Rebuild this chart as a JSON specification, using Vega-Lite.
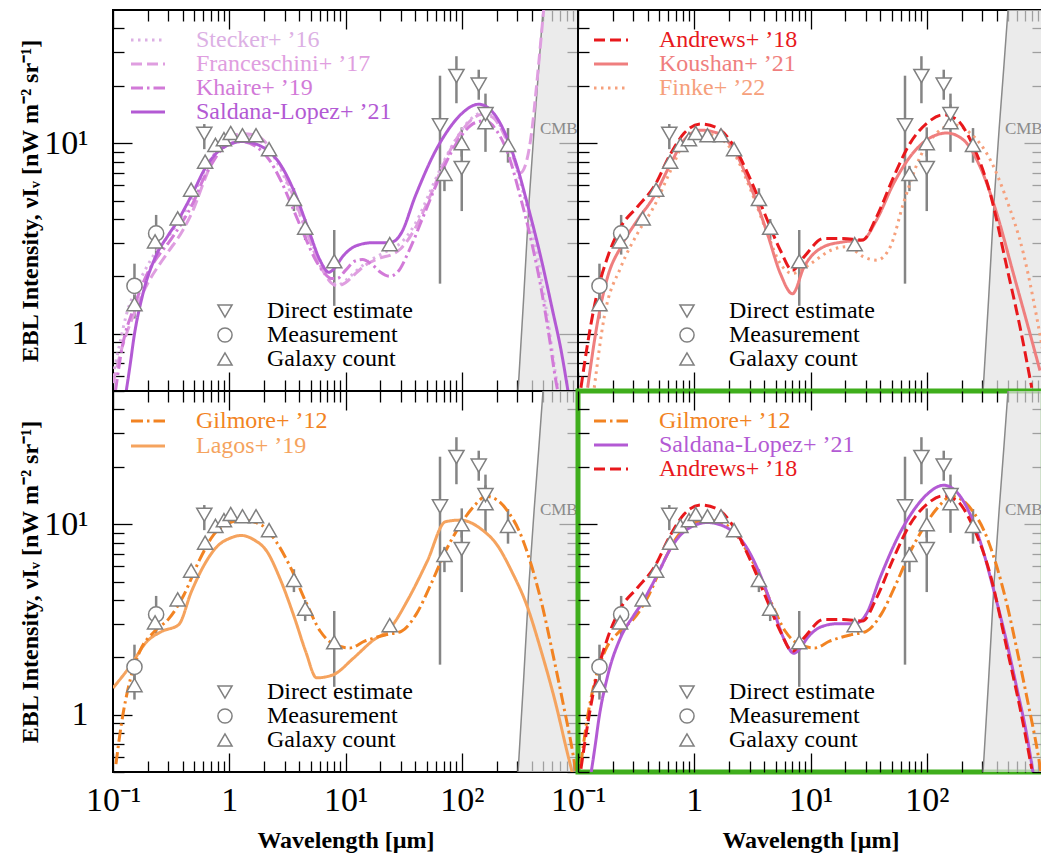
{
"$schema": "https://vega.github.io/schema/vega-lite/v6.json",
"background": "white",
"padding": {"left": 16, "top": 8, "right": 0, "bottom": 0},
"datasets": {
"cmb": [
{"lam":300,"val":0.42},{"lam":340,"val":1.5},{"lam":380,"val":5.0},{"lam":420,"val":12},{"lam":460,"val":25},{"lam":500,"val":50},{"lam":560,"val":110},{"lam":1000,"val":3000}
],
"points": [
{"type":"Measurement","lam":0.153,"val":1.78,"lo":1.5,"hi":2.33},
{"type":"Galaxy count","lam":0.153,"val":1.43,"lo":1.2,"hi":1.65},
{"type":"Measurement","lam":0.235,"val":3.36,"lo":2.6,"hi":4.2},
{"type":"Galaxy count","lam":0.23,"val":3.05,"lo":null,"hi":null},
{"type":"Galaxy count","lam":0.36,"val":4.03,"lo":null,"hi":null},
{"type":"Galaxy count","lam":0.47,"val":5.7,"lo":null,"hi":null},
{"type":"Galaxy count","lam":0.62,"val":8.0,"lo":null,"hi":null},
{"type":"Galaxy count","lam":0.76,"val":9.8,"lo":null,"hi":null},
{"type":"Galaxy count","lam":0.9,"val":10.5,"lo":null,"hi":null},
{"type":"Galaxy count","lam":1.03,"val":11.3,"lo":null,"hi":null},
{"type":"Galaxy count","lam":1.3,"val":11.0,"lo":null,"hi":null},
{"type":"Galaxy count","lam":1.7,"val":11.0,"lo":null,"hi":null},
{"type":"Galaxy count","lam":2.2,"val":9.3,"lo":null,"hi":null},
{"type":"Galaxy count","lam":3.6,"val":5.1,"lo":4.4,"hi":5.8},
{"type":"Galaxy count","lam":4.5,"val":3.6,"lo":3.1,"hi":4.0},
{"type":"Galaxy count","lam":8.0,"val":2.4,"lo":1.4,"hi":3.5},
{"type":"Galaxy count","lam":24,"val":2.95,"lo":null,"hi":null},
{"type":"Galaxy count","lam":71,"val":6.9,"lo":5.6,"hi":7.6},
{"type":"Galaxy count","lam":100,"val":10.0,"lo":8.5,"hi":12.1},
{"type":"Galaxy count","lam":160,"val":12.9,"lo":9.0,"hi":18.2},
{"type":"Galaxy count","lam":250,"val":9.8,"lo":7.9,"hi":12.0},
{"type":"Direct estimate","lam":0.61,"val":11.2,"lo":9.3,"hi":12.6},
{"type":"Direct estimate","lam":65,"val":12.4,"lo":1.83,"hi":22.6},
{"type":"Direct estimate","lam":90,"val":22.5,"lo":16.2,"hi":28.6},
{"type":"Direct estimate","lam":100,"val":7.4,"lo":4.4,"hi":10.0},
{"type":"Direct estimate","lam":140,"val":20.3,"lo":16.9,"hi":24.3},
{"type":"Direct estimate","lam":160,"val":14.2,"lo":12.0,"hi":16.0}
],
"models": [
{"model":"Lagos+ ’19","lam":0.1,"val":1.38},{"model":"Lagos+ ’19","lam":0.137,"val":1.76},{"model":"Lagos+ ’19","lam":0.197,"val":2.43},{"model":"Lagos+ ’19","lam":0.264,"val":2.74},{"model":"Lagos+ ’19","lam":0.366,"val":2.96},{"model":"Lagos+ ’19","lam":0.473,"val":4.43},{"model":"Lagos+ ’19","lam":0.61,"val":6.12},{"model":"Lagos+ ’19","lam":0.787,"val":7.64},{"model":"Lagos+ ’19","lam":1.02,"val":8.45},{"model":"Lagos+ ’19","lam":1.27,"val":8.72},{"model":"Lagos+ ’19","lam":1.63,"val":8.28},{"model":"Lagos+ ’19","lam":2.11,"val":7.19},{"model":"Lagos+ ’19","lam":2.72,"val":5.21},{"model":"Lagos+ ’19","lam":3.65,"val":3.21},{"model":"Lagos+ ’19","lam":4.54,"val":2.15},{"model":"Lagos+ ’19","lam":5.65,"val":1.56},{"model":"Lagos+ ’19","lam":7.84,"val":1.62},{"model":"Lagos+ ’19","lam":11.7,"val":1.98},{"model":"Lagos+ ’19","lam":16.9,"val":2.43},{"model":"Lagos+ ’19","lam":24.3,"val":2.85},{"model":"Lagos+ ’19","lam":35,"val":4.09},{"model":"Lagos+ ’19","lam":50.4,"val":6.37},{"model":"Lagos+ ’19","lam":72.4,"val":10.3},{"model":"Lagos+ ’19","lam":97,"val":10.5},{"model":"Lagos+ ’19","lam":150,"val":9.33},{"model":"Lagos+ ’19","lam":201,"val":7.79},{"model":"Lagos+ ’19","lam":269,"val":5.65},{"model":"Lagos+ ’19","lam":361,"val":3.78},{"model":"Lagos+ ’19","lam":483,"val":2.15},{"model":"Lagos+ ’19","lam":646,"val":1.13},{"model":"Lagos+ ’19","lam":805,"val":0.64},{"model":"Lagos+ ’19","lam":898,"val":0.49},
{"model":"Gilmore+ ’12","lam":0.106,"val":0.55},{"model":"Gilmore+ ’12","lam":0.118,"val":0.89},{"model":"Gilmore+ ’12","lam":0.142,"val":1.56},{"model":"Gilmore+ ’12","lam":0.17,"val":2.15},{"model":"Gilmore+ ’12","lam":0.228,"val":2.74},{"model":"Gilmore+ ’12","lam":0.305,"val":3.21},{"model":"Gilmore+ ’12","lam":0.408,"val":4.26},{"model":"Gilmore+ ’12","lam":0.547,"val":6.37},{"model":"Gilmore+ ’12","lam":0.733,"val":8.79},{"model":"Gilmore+ ’12","lam":0.98,"val":10.1},{"model":"Gilmore+ ’12","lam":1.31,"val":10.5},{"model":"Gilmore+ ’12","lam":1.89,"val":9.9},{"model":"Gilmore+ ’12","lam":2.53,"val":8.1},{"model":"Gilmore+ ’12","lam":3.39,"val":5.88},{"model":"Gilmore+ ’12","lam":4.54,"val":3.93},{"model":"Gilmore+ ’12","lam":6.07,"val":2.74},{"model":"Gilmore+ ’12","lam":8.1,"val":2.33},{"model":"Gilmore+ ’12","lam":10.9,"val":2.24},{"model":"Gilmore+ ’12","lam":14.6,"val":2.43},{"model":"Gilmore+ ’12","lam":22.5,"val":2.63},{"model":"Gilmore+ ’12","lam":30.2,"val":2.74},{"model":"Gilmore+ ’12","lam":40.4,"val":3.35},{"model":"Gilmore+ ’12","lam":54,"val":4.8},{"model":"Gilmore+ ’12","lam":72.4,"val":7.19},{"model":"Gilmore+ ’12","lam":97,"val":9.9},{"model":"Gilmore+ ’12","lam":130,"val":12.6},{"model":"Gilmore+ ’12","lam":162,"val":14.0},{"model":"Gilmore+ ’12","lam":201,"val":13.4},{"model":"Gilmore+ ’12","lam":251,"val":11.6},{"model":"Gilmore+ ’12","lam":312,"val":9.2},{"model":"Gilmore+ ’12","lam":388,"val":6.37},{"model":"Gilmore+ ’12","lam":483,"val":3.93},{"model":"Gilmore+ ’12","lam":601,"val":2.15},{"model":"Gilmore+ ’12","lam":748,"val":1.13},{"model":"Gilmore+ ’12","lam":898,"val":0.64},{"model":"Gilmore+ ’12","lam":960,"val":0.5},
{"model":"Finke+ ’22","lam":0.138,"val":0.52},{"model":"Finke+ ’22","lam":0.168,"val":1.22},{"model":"Finke+ ’22","lam":0.234,"val":2.24},{"model":"Finke+ ’22","lam":0.325,"val":3.36},{"model":"Finke+ ’22","lam":0.45,"val":4.64},{"model":"Finke+ ’22","lam":0.63,"val":7.24},{"model":"Finke+ ’22","lam":0.82,"val":10},{"model":"Finke+ ’22","lam":1.14,"val":11.3},{"model":"Finke+ ’22","lam":1.58,"val":10.8},{"model":"Finke+ ’22","lam":2.2,"val":8.85},{"model":"Finke+ ’22","lam":3.06,"val":5.68},{"model":"Finke+ ’22","lam":4.25,"val":3.36},{"model":"Finke+ ’22","lam":5.5,"val":2.33},{"model":"Finke+ ’22","lam":7.0,"val":2.07},{"model":"Finke+ ’22","lam":10,"val":2.33},{"model":"Finke+ ’22","lam":15,"val":2.74},{"model":"Finke+ ’22","lam":20.6,"val":2.86},{"model":"Finke+ ’22","lam":28.7,"val":2.53},{"model":"Finke+ ’22","lam":37,"val":2.43},{"model":"Finke+ ’22","lam":48.6,"val":2.86},{"model":"Finke+ ’22","lam":63,"val":4.83},{"model":"Finke+ ’22","lam":88,"val":8.5},{"model":"Finke+ ’22","lam":122,"val":11.3},{"model":"Finke+ ’22","lam":170,"val":12.5},{"model":"Finke+ ’22","lam":236,"val":11.3},{"model":"Finke+ ’22","lam":351,"val":8.2},{"model":"Finke+ ’22","lam":488,"val":5.03},{"model":"Finke+ ’22","lam":678,"val":2.64},{"model":"Finke+ ’22","lam":883,"val":1.22},{"model":"Finke+ ’22","lam":1000,"val":0.8},
{"model":"Koushan+ ’21","lam":0.121,"val":0.52},{"model":"Koushan+ ’21","lam":0.148,"val":1.17},{"model":"Koushan+ ’21","lam":0.18,"val":1.99},{"model":"Koushan+ ’21","lam":0.234,"val":2.86},{"model":"Koushan+ ’21","lam":0.325,"val":3.95},{"model":"Koushan+ ’21","lam":0.45,"val":5.24},{"model":"Koushan+ ’21","lam":0.63,"val":7.85},{"model":"Koushan+ ’21","lam":0.82,"val":10.4},{"model":"Koushan+ ’21","lam":1.14,"val":11.7},{"model":"Koushan+ ’21","lam":1.58,"val":11.3},{"model":"Koushan+ ’21","lam":2.2,"val":9.2},{"model":"Koushan+ ’21","lam":3.06,"val":5.9},{"model":"Koushan+ ’21","lam":4.25,"val":3.36},{"model":"Koushan+ ’21","lam":5.5,"val":2.07},{"model":"Koushan+ ’21","lam":7.0,"val":1.62},{"model":"Koushan+ ’21","lam":8.8,"val":2.24},{"model":"Koushan+ ’21","lam":13,"val":2.86},{"model":"Koushan+ ’21","lam":19,"val":3.03},{"model":"Koushan+ ’21","lam":28,"val":3.1},{"model":"Koushan+ ’21","lam":37,"val":3.95},{"model":"Koushan+ ’21","lam":52,"val":6.16},{"model":"Koushan+ ’21","lam":72,"val":8.5},{"model":"Koushan+ ’21","lam":100,"val":10.4},{"model":"Koushan+ ’21","lam":149,"val":11.3},{"model":"Koushan+ ’21","lam":207,"val":10.4},{"model":"Koushan+ ’21","lam":288,"val":7.5},{"model":"Koushan+ ’21","lam":400,"val":4.28},{"model":"Koushan+ ’21","lam":556,"val":2.07},{"model":"Koushan+ ’21","lam":773,"val":1.0},{"model":"Koushan+ ’21","lam":942,"val":0.64},
{"model":"Stecker+ ’16","lam":0.1,"val":0.6},{"model":"Stecker+ ’16","lam":0.115,"val":0.9},{"model":"Stecker+ ’16","lam":0.13,"val":1.25},{"model":"Stecker+ ’16","lam":0.16,"val":1.75},{"model":"Stecker+ ’16","lam":0.2,"val":2.3},{"model":"Stecker+ ’16","lam":0.25,"val":2.85},{"model":"Stecker+ ’16","lam":0.3,"val":3.25},{"model":"Stecker+ ’16","lam":0.4,"val":4.2},{"model":"Stecker+ ’16","lam":0.5,"val":5.4},{"model":"Stecker+ ’16","lam":0.6,"val":7.0},{"model":"Stecker+ ’16","lam":0.7,"val":8.3},{"model":"Stecker+ ’16","lam":0.85,"val":9.7},{"model":"Stecker+ ’16","lam":1.0,"val":10.5},{"model":"Stecker+ ’16","lam":1.3,"val":11.0},{"model":"Stecker+ ’16","lam":1.7,"val":10.6},{"model":"Stecker+ ’16","lam":2.2,"val":9.2},{"model":"Stecker+ ’16","lam":2.8,"val":7.2},{"model":"Stecker+ ’16","lam":3.5,"val":5.2},{"model":"Stecker+ ’16","lam":4.5,"val":3.6},{"model":"Stecker+ ’16","lam":5.5,"val":2.7},{"model":"Stecker+ ’16","lam":6.5,"val":2.15},{"model":"Stecker+ ’16","lam":7.5,"val":1.9},{"model":"Stecker+ ’16","lam":8.5,"val":1.8},{"model":"Stecker+ ’16","lam":10,"val":1.9},{"model":"Stecker+ ’16","lam":12,"val":2.1},{"model":"Stecker+ ’16","lam":15,"val":2.35},{"model":"Stecker+ ’16","lam":20,"val":2.6},{"model":"Stecker+ ’16","lam":25,"val":2.8},{"model":"Stecker+ ’16","lam":30,"val":3.0},{"model":"Stecker+ ’16","lam":40,"val":3.8},{"model":"Stecker+ ’16","lam":55,"val":5.8},{"model":"Stecker+ ’16","lam":70,"val":8.0},{"model":"Stecker+ ’16","lam":90,"val":10.6},{"model":"Stecker+ ’16","lam":120,"val":13.4},{"model":"Stecker+ ’16","lam":150,"val":14.4},{"model":"Stecker+ ’16","lam":180,"val":14.0},{"model":"Stecker+ ’16","lam":220,"val":12.0},{"model":"Stecker+ ’16","lam":270,"val":8.8},{"model":"Stecker+ ’16","lam":330,"val":5.8},{"model":"Stecker+ ’16","lam":400,"val":3.6},{"model":"Stecker+ ’16","lam":480,"val":2.0},{"model":"Stecker+ ’16","lam":560,"val":1.1},{"model":"Stecker+ ’16","lam":640,"val":0.62},{"model":"Stecker+ ’16","lam":680,"val":0.5},
{"model":"Franceschini+ ’17","lam":0.1,"val":0.55},{"model":"Franceschini+ ’17","lam":0.12,"val":0.85},{"model":"Franceschini+ ’17","lam":0.15,"val":1.25},{"model":"Franceschini+ ’17","lam":0.2,"val":1.85},{"model":"Franceschini+ ’17","lam":0.25,"val":2.3},{"model":"Franceschini+ ’17","lam":0.3,"val":2.7},{"model":"Franceschini+ ’17","lam":0.4,"val":3.5},{"model":"Franceschini+ ’17","lam":0.5,"val":4.6},{"model":"Franceschini+ ’17","lam":0.6,"val":6.2},{"model":"Franceschini+ ’17","lam":0.7,"val":7.8},{"model":"Franceschini+ ’17","lam":0.85,"val":9.6},{"model":"Franceschini+ ’17","lam":1.0,"val":10.6},{"model":"Franceschini+ ’17","lam":1.3,"val":11.2},{"model":"Franceschini+ ’17","lam":1.7,"val":11.0},{"model":"Franceschini+ ’17","lam":2.2,"val":9.6},{"model":"Franceschini+ ’17","lam":2.8,"val":7.5},{"model":"Franceschini+ ’17","lam":3.5,"val":5.4},{"model":"Franceschini+ ’17","lam":4.5,"val":3.6},{"model":"Franceschini+ ’17","lam":5.5,"val":2.6},{"model":"Franceschini+ ’17","lam":6.5,"val":2.1},{"model":"Franceschini+ ’17","lam":7.5,"val":1.85},{"model":"Franceschini+ ’17","lam":8.5,"val":1.78},{"model":"Franceschini+ ’17","lam":10,"val":1.85},{"model":"Franceschini+ ’17","lam":12,"val":2.05},{"model":"Franceschini+ ’17","lam":15,"val":2.3},{"model":"Franceschini+ ’17","lam":20,"val":2.5},{"model":"Franceschini+ ’17","lam":25,"val":2.6},{"model":"Franceschini+ ’17","lam":30,"val":2.8},{"model":"Franceschini+ ’17","lam":40,"val":3.6},{"model":"Franceschini+ ’17","lam":55,"val":5.5},{"model":"Franceschini+ ’17","lam":70,"val":7.8},{"model":"Franceschini+ ’17","lam":90,"val":10.5},{"model":"Franceschini+ ’17","lam":120,"val":13.2},{"model":"Franceschini+ ’17","lam":150,"val":14.2},{"model":"Franceschini+ ’17","lam":180,"val":13.8},{"model":"Franceschini+ ’17","lam":220,"val":11.8},{"model":"Franceschini+ ’17","lam":270,"val":8.8},{"model":"Franceschini+ ’17","lam":320,"val":7.0},{"model":"Franceschini+ ’17","lam":360,"val":8.0},{"model":"Franceschini+ ’17","lam":400,"val":11.5},{"model":"Franceschini+ ’17","lam":440,"val":20},{"model":"Franceschini+ ’17","lam":480,"val":35},{"model":"Franceschini+ ’17","lam":520,"val":60},
{"model":"Khaire+ ’19","lam":0.105,"val":0.5},{"model":"Khaire+ ’19","lam":0.12,"val":0.85},{"model":"Khaire+ ’19","lam":0.15,"val":1.35},{"model":"Khaire+ ’19","lam":0.2,"val":2.1},{"model":"Khaire+ ’19","lam":0.25,"val":2.6},{"model":"Khaire+ ’19","lam":0.3,"val":3.0},{"model":"Khaire+ ’19","lam":0.4,"val":3.9},{"model":"Khaire+ ’19","lam":0.5,"val":5.0},{"model":"Khaire+ ’19","lam":0.6,"val":6.5},{"model":"Khaire+ ’19","lam":0.7,"val":7.7},{"model":"Khaire+ ’19","lam":0.85,"val":9.2},{"model":"Khaire+ ’19","lam":1.0,"val":9.9},{"model":"Khaire+ ’19","lam":1.3,"val":10.2},{"model":"Khaire+ ’19","lam":1.7,"val":9.6},{"model":"Khaire+ ’19","lam":2.2,"val":8.2},{"model":"Khaire+ ’19","lam":2.8,"val":6.3},{"model":"Khaire+ ’19","lam":3.5,"val":4.6},{"model":"Khaire+ ’19","lam":4.5,"val":3.2},{"model":"Khaire+ ’19","lam":5.5,"val":2.45},{"model":"Khaire+ ’19","lam":6.5,"val":2.1},{"model":"Khaire+ ’19","lam":7.5,"val":1.95},{"model":"Khaire+ ’19","lam":8.5,"val":1.95},{"model":"Khaire+ ’19","lam":10,"val":2.15},{"model":"Khaire+ ’19","lam":12,"val":2.4},{"model":"Khaire+ ’19","lam":14,"val":2.45},{"model":"Khaire+ ’19","lam":17,"val":2.3},{"model":"Khaire+ ’19","lam":20,"val":2.1},{"model":"Khaire+ ’19","lam":24,"val":2.0},{"model":"Khaire+ ’19","lam":28,"val":2.1},{"model":"Khaire+ ’19","lam":35,"val":2.7},{"model":"Khaire+ ’19","lam":45,"val":3.9},{"model":"Khaire+ ’19","lam":60,"val":6.0},{"model":"Khaire+ ’19","lam":80,"val":8.8},{"model":"Khaire+ ’19","lam":100,"val":11.0},{"model":"Khaire+ ’19","lam":130,"val":12.8},{"model":"Khaire+ ’19","lam":160,"val":13.1},{"model":"Khaire+ ’19","lam":200,"val":11.6},{"model":"Khaire+ ’19","lam":250,"val":8.8},{"model":"Khaire+ ’19","lam":320,"val":5.2},{"model":"Khaire+ ’19","lam":400,"val":3.0},{"model":"Khaire+ ’19","lam":480,"val":1.75},{"model":"Khaire+ ’19","lam":560,"val":1.0},{"model":"Khaire+ ’19","lam":650,"val":0.55},{"model":"Khaire+ ’19","lam":670,"val":0.5},
{"model":"Saldana-Lopez+ ’21","lam":0.13,"val":0.5},{"model":"Saldana-Lopez+ ’21","lam":0.142,"val":0.72},{"model":"Saldana-Lopez+ ’21","lam":0.15,"val":0.92},{"model":"Saldana-Lopez+ ’21","lam":0.18,"val":1.6},{"model":"Saldana-Lopez+ ’21","lam":0.23,"val":2.5},{"model":"Saldana-Lopez+ ’21","lam":0.3,"val":3.3},{"model":"Saldana-Lopez+ ’21","lam":0.35,"val":3.8},{"model":"Saldana-Lopez+ ’21","lam":0.48,"val":5.4},{"model":"Saldana-Lopez+ ’21","lam":0.63,"val":7.5},{"model":"Saldana-Lopez+ ’21","lam":0.88,"val":9.45},{"model":"Saldana-Lopez+ ’21","lam":1.3,"val":10.2},{"model":"Saldana-Lopez+ ’21","lam":1.9,"val":9.6},{"model":"Saldana-Lopez+ ’21","lam":2.8,"val":7.6},{"model":"Saldana-Lopez+ ’21","lam":3.7,"val":5.4},{"model":"Saldana-Lopez+ ’21","lam":4.9,"val":3.4},{"model":"Saldana-Lopez+ ’21","lam":6.0,"val":2.45},{"model":"Saldana-Lopez+ ’21","lam":7.2,"val":2.1},{"model":"Saldana-Lopez+ ’21","lam":8.0,"val":2.2},{"model":"Saldana-Lopez+ ’21","lam":9.5,"val":2.55},{"model":"Saldana-Lopez+ ’21","lam":12.5,"val":2.9},{"model":"Saldana-Lopez+ ’21","lam":17,"val":3.0},{"model":"Saldana-Lopez+ ’21","lam":22,"val":3.0},{"model":"Saldana-Lopez+ ’21","lam":26,"val":3.05},{"model":"Saldana-Lopez+ ’21","lam":30,"val":3.35},{"model":"Saldana-Lopez+ ’21","lam":40,"val":5.3},{"model":"Saldana-Lopez+ ’21","lam":60,"val":9.2},{"model":"Saldana-Lopez+ ’21","lam":80,"val":12.2},{"model":"Saldana-Lopez+ ’21","lam":100,"val":14.3},{"model":"Saldana-Lopez+ ’21","lam":140,"val":16.0},{"model":"Saldana-Lopez+ ’21","lam":180,"val":14.8},{"model":"Saldana-Lopez+ ’21","lam":240,"val":11.0},{"model":"Saldana-Lopez+ ’21","lam":300,"val":7.5},{"model":"Saldana-Lopez+ ’21","lam":370,"val":4.7},{"model":"Saldana-Lopez+ ’21","lam":480,"val":2.5},{"model":"Saldana-Lopez+ ’21","lam":600,"val":1.35},{"model":"Saldana-Lopez+ ’21","lam":720,"val":0.8},{"model":"Saldana-Lopez+ ’21","lam":820,"val":0.5},
{"model":"Andrews+ ’18","lam":0.106,"val":0.52},{"model":"Andrews+ ’18","lam":0.125,"val":1.0},{"model":"Andrews+ ’18","lam":0.148,"val":1.69},{"model":"Andrews+ ’18","lam":0.18,"val":2.53},{"model":"Andrews+ ’18","lam":0.234,"val":3.64},{"model":"Andrews+ ’18","lam":0.325,"val":4.64},{"model":"Andrews+ ’18","lam":0.45,"val":5.9},{"model":"Andrews+ ’18","lam":0.63,"val":8.86},{"model":"Andrews+ ’18","lam":0.82,"val":11.3},{"model":"Andrews+ ’18","lam":1.14,"val":12.6},{"model":"Andrews+ ’18","lam":1.58,"val":12.0},{"model":"Andrews+ ’18","lam":2.2,"val":9.6},{"model":"Andrews+ ’18","lam":3.06,"val":6.4},{"model":"Andrews+ ’18","lam":4.25,"val":3.95},{"model":"Andrews+ ’18","lam":5.5,"val":2.74},{"model":"Andrews+ ’18","lam":7.0,"val":2.15},{"model":"Andrews+ ’18","lam":8.8,"val":2.53},{"model":"Andrews+ ’18","lam":13,"val":3.16},{"model":"Andrews+ ’18","lam":19,"val":3.16},{"model":"Andrews+ ’18","lam":28,"val":3.1},{"model":"Andrews+ ’18","lam":37,"val":4.1},{"model":"Andrews+ ’18","lam":52,"val":6.67},{"model":"Andrews+ ’18","lam":72,"val":10},{"model":"Andrews+ ’18","lam":100,"val":12.7},{"model":"Andrews+ ’18","lam":139,"val":14.1},{"model":"Andrews+ ’18","lam":181,"val":13.3},{"model":"Andrews+ ’18","lam":252,"val":9.6},{"model":"Andrews+ ’18","lam":351,"val":5.46},{"model":"Andrews+ ’18","lam":488,"val":2.24},{"model":"Andrews+ ’18","lam":635,"val":1.08},{"model":"Andrews+ ’18","lam":800,"val":0.52}
]
},
"columns": 2,
"spacing": 0,
"bounds": "flush",
"resolve": {
"scale": {"x": "independent", "y": "independent", "color": "independent", "strokeDash": "independent", "shape": "independent"},
"legend": {"color": "independent", "strokeDash": "independent", "shape": "independent"},
"axis": {"x": "independent", "y": "independent"}
},
"concat": [
{
"width": 465, "height": 381,
"resolve": {"axis": {"x": "independent", "y": "independent"}},
"layer": [
{"data": {"name": "cmb"}, "mark": {"type": "area", "color": "#e2e2e2", "clip": true, "line": {"color": "#8a8a8a", "strokeWidth": 1.5}},
 "encoding": {
  "x": {"field": "lam", "type": "quantitative", "scale": {"type": "log", "domain": [0.1, 1000], "nice": false},
   "axis": {"orient": "bottom", "values": [0.1,0.2,0.3,0.4,0.5,0.6,0.7,0.8,0.9,1,2,3,4,5,6,7,8,9,10,20,30,40,50,60,70,80,90,100,200,300,400,500,600,700,800,900], "tickSize": {"condition": {"test": "datum.value==0.1||datum.value==1||datum.value==10||datum.value==100", "value": -19}, "value": -11}, "labels": false, "title": null}},
  "y": {"field": "val", "type": "quantitative", "scale": {"type": "log", "domain": [0.5, 50], "nice": false},
   "axis": {"orient": "left", "values": [0.5,0.6,0.7,0.8,0.9,1,2,3,4,5,6,7,8,9,10,20,30,40], "tickSize": {"condition": {"test": "datum.value==1||datum.value==10", "value": -19}, "value": -11}, "labelExpr": "datum.value==1 ? '1' : datum.value==10 ? '10¹' : ''", "labelFontSize": 34, "labelPadding": 44, "labelBaseline": "middle", "title": "EBL Intensity, νIᵥ [nW m⁻² sr⁻¹]", "titleFontSize": 24, "titleFontWeight": "bold", "titleX": -83, "titleY": 190.5, "titleAngle": -90, "titleAlign": "center", "titleBaseline": "middle"}},
  "y2": {"datum": 0.3}
 }},
{"data": {"name": "points"}, "mark": {"type": "rule", "color": "#858585", "strokeWidth": 2.5, "clip": true},
 "encoding": {
  "x": {"field": "lam", "type": "quantitative", "axis": {"orient": "top", "values": [0.1,0.2,0.3,0.4,0.5,0.6,0.7,0.8,0.9,1,2,3,4,5,6,7,8,9,10,20,30,40,50,60,70,80,90,100,200,300,400,500,600,700,800,900], "tickSize": {"condition": {"test": "datum.value==0.1||datum.value==1||datum.value==10||datum.value==100", "value": -19}, "value": -11}, "labels": false, "title": null}},
  "y": {"field": "lo", "type": "quantitative", "axis": {"orient": "right", "values": [0.5,0.6,0.7,0.8,0.9,1,2,3,4,5,6,7,8,9,10,20,30,40], "tickSize": {"condition": {"test": "datum.value==1||datum.value==10", "value": -19}, "value": -11}, "labels": false, "title": null}},
  "y2": {"field": "hi"}
 }},
{"data": {"values": [{}]}, "mark": {"type": "text", "text": "CMB", "font": "Liberation Serif", "fontSize": 17, "color": "#8a8a8a", "align": "left", "baseline": "middle", "clip": true},
 "encoding": {"x": {"datum": 470, "type": "quantitative", "axis": null}, "y": {"datum": 11.8, "type": "quantitative", "axis": null}}},
{"data": {"name": "models"}, "transform": [{"filter": {"field": "model", "oneOf": ["Stecker+ ’16", "Franceschini+ ’17", "Khaire+ ’19", "Saldana-Lopez+ ’21"]}}],
 "mark": {"type": "line", "strokeWidth": 3, "clip": true, "interpolate": "monotone"},
 "encoding": {
  "x": {"field": "lam", "type": "quantitative", "axis": null},
  "y": {"field": "val", "type": "quantitative", "axis": null},
  "color": {"field": "model", "type": "nominal", "scale": {"domain": ["Stecker+ ’16", "Franceschini+ ’17", "Khaire+ ’19", "Saldana-Lopez+ ’21"], "range": ["#dcb0e4", "#df9ee0", "#d27ad8", "#b35ad4"]},
   "legend": {"title": null, "orient": "none", "legendX": 23, "legendY": 18, "symbolType": "M-1.7,0H1.7", "symbolSize": 400, "symbolStrokeWidth": 3, "labelFontSize": 24, "labelOffset": 36, "rowPadding": -1, "padding": 0, "labelLimit": 400, "encode": {"labels": {"update": {"fill": {"signal": "datum.value=='Stecker+ ’16'?'#dcb0e4':datum.value=='Franceschini+ ’17'?'#df9ee0':datum.value=='Khaire+ ’19'?'#d27ad8':'#b35ad4'"}}}}}},
  "strokeDash": {"field": "model", "type": "nominal", "scale": {"domain": ["Stecker+ ’16", "Franceschini+ ’17", "Khaire+ ’19", "Saldana-Lopez+ ’21"], "range": [[2.5,4.5],[11,5],[12,4,2.5,4],[1,0]]},
   "legend": {"title": null, "orient": "none", "legendX": 23, "legendY": 18, "symbolType": "M-1.7,0H1.7", "symbolSize": 400, "symbolStrokeWidth": 3, "labelFontSize": 24, "labelOffset": 36, "rowPadding": -1, "padding": 0, "labelLimit": 400, "encode": {"labels": {"update": {"fill": {"signal": "datum.value=='Stecker+ ’16'?'#dcb0e4':datum.value=='Franceschini+ ’17'?'#df9ee0':datum.value=='Khaire+ ’19'?'#d27ad8':'#b35ad4'"}}}}}}
 }},
{"data": {"name": "points"}, "mark": {"type": "point", "fill": "white", "fillOpacity": 1, "stroke": "#808080", "strokeWidth": 1.5, "size": 230, "opacity": 1, "clip": true},
 "encoding": {
  "x": {"field": "lam", "type": "quantitative", "axis": null},
  "y": {"field": "val", "type": "quantitative", "axis": null},
  "shape": {"field": "type", "type": "nominal", "scale": {"domain": ["Direct estimate", "Measurement", "Galaxy count"], "range": ["triangle-down", "circle", "triangle-up"]},
   "legend": {"title": null, "orient": "none", "legendX": 100, "legendY": 289, "symbolSize": 200, "labelFontSize": 24, "labelColor": "black", "labelOffset": 30, "rowPadding": -0.5, "padding": 0, "encode": {"symbols": {"update": {"fill": {"value": "white"}, "stroke": {"value": "#808080"}, "strokeWidth": {"value": 1.5}, "opacity": {"value": 1}, "fillOpacity": {"value": 1}, "strokeOpacity": {"value": 1}}}}}}
 }}
]
},
{
"width": 465, "height": 381,
"resolve": {"axis": {"x": "independent", "y": "independent"}},
"layer": [
{"data": {"name": "cmb"}, "mark": {"type": "area", "color": "#e2e2e2", "clip": true, "line": {"color": "#8a8a8a", "strokeWidth": 1.5}},
 "encoding": {
  "x": {"field": "lam", "type": "quantitative", "scale": {"type": "log", "domain": [0.1, 1000], "nice": false},
   "axis": {"orient": "bottom", "values": [0.1,0.2,0.3,0.4,0.5,0.6,0.7,0.8,0.9,1,2,3,4,5,6,7,8,9,10,20,30,40,50,60,70,80,90,100,200,300,400,500,600,700,800,900], "tickSize": {"condition": {"test": "datum.value==0.1||datum.value==1||datum.value==10||datum.value==100", "value": -19}, "value": -11}, "labels": false, "title": null}},
  "y": {"field": "val", "type": "quantitative", "scale": {"type": "log", "domain": [0.5, 50], "nice": false},
   "axis": {"orient": "left", "values": [0.5,0.6,0.7,0.8,0.9,1,2,3,4,5,6,7,8,9,10,20,30,40], "tickSize": {"condition": {"test": "datum.value==1||datum.value==10", "value": -19}, "value": -11}, "labels": false, "title": null}},
  "y2": {"datum": 0.3}
 }},
{"data": {"name": "points"}, "mark": {"type": "rule", "color": "#858585", "strokeWidth": 2.5, "clip": true},
 "encoding": {
  "x": {"field": "lam", "type": "quantitative", "axis": {"orient": "top", "values": [0.1,0.2,0.3,0.4,0.5,0.6,0.7,0.8,0.9,1,2,3,4,5,6,7,8,9,10,20,30,40,50,60,70,80,90,100,200,300,400,500,600,700,800,900], "tickSize": {"condition": {"test": "datum.value==0.1||datum.value==1||datum.value==10||datum.value==100", "value": -19}, "value": -11}, "labels": false, "title": null}},
  "y": {"field": "lo", "type": "quantitative", "axis": {"orient": "right", "values": [0.5,0.6,0.7,0.8,0.9,1,2,3,4,5,6,7,8,9,10,20,30,40], "tickSize": {"condition": {"test": "datum.value==1||datum.value==10", "value": -19}, "value": -11}, "labels": false, "title": null}},
  "y2": {"field": "hi"}
 }},
{"data": {"values": [{}]}, "mark": {"type": "text", "text": "CMB", "font": "Liberation Serif", "fontSize": 17, "color": "#8a8a8a", "align": "left", "baseline": "middle", "clip": true},
 "encoding": {"x": {"datum": 470, "type": "quantitative", "axis": null}, "y": {"datum": 11.8, "type": "quantitative", "axis": null}}},
{"data": {"name": "models"}, "transform": [{"filter": {"field": "model", "oneOf": ["Andrews+ ’18", "Koushan+ ’21", "Finke+ ’22"]}}],
 "mark": {"type": "line", "strokeWidth": 3, "clip": true, "interpolate": "monotone"},
 "encoding": {
  "x": {"field": "lam", "type": "quantitative", "axis": null},
  "y": {"field": "val", "type": "quantitative", "axis": null},
  "color": {"field": "model", "type": "nominal", "scale": {"domain": ["Andrews+ ’18", "Koushan+ ’21", "Finke+ ’22"], "range": ["#e8181c", "#ef7e7e", "#f6a07c"]},
   "legend": {"title": null, "orient": "none", "legendX": 21, "legendY": 18, "symbolType": "M-1.7,0H1.7", "symbolSize": 400, "symbolStrokeWidth": 3, "labelFontSize": 24, "labelOffset": 36, "rowPadding": -1, "padding": 0, "labelLimit": 400, "encode": {"labels": {"update": {"fill": {"signal": "datum.value=='Andrews+ ’18'?'#e8181c':datum.value=='Koushan+ ’21'?'#ef7e7e':'#f6a07c'"}}}}}},
  "strokeDash": {"field": "model", "type": "nominal", "scale": {"domain": ["Andrews+ ’18", "Koushan+ ’21", "Finke+ ’22"], "range": [[11,5],[1,0],[2.5,4.5]]},
   "legend": {"title": null, "orient": "none", "legendX": 21, "legendY": 18, "symbolType": "M-1.7,0H1.7", "symbolSize": 400, "symbolStrokeWidth": 3, "labelFontSize": 24, "labelOffset": 36, "rowPadding": -1, "padding": 0, "labelLimit": 400, "encode": {"labels": {"update": {"fill": {"signal": "datum.value=='Andrews+ ’18'?'#e8181c':datum.value=='Koushan+ ’21'?'#ef7e7e':'#f6a07c'"}}}}}}
 }},
{"data": {"name": "points"}, "mark": {"type": "point", "fill": "white", "fillOpacity": 1, "stroke": "#808080", "strokeWidth": 1.5, "size": 230, "opacity": 1, "clip": true},
 "encoding": {
  "x": {"field": "lam", "type": "quantitative", "axis": null},
  "y": {"field": "val", "type": "quantitative", "axis": null},
  "shape": {"field": "type", "type": "nominal", "scale": {"domain": ["Direct estimate", "Measurement", "Galaxy count"], "range": ["triangle-down", "circle", "triangle-up"]},
   "legend": {"title": null, "orient": "none", "legendX": 97, "legendY": 289, "symbolSize": 200, "labelFontSize": 24, "labelColor": "black", "labelOffset": 30, "rowPadding": -0.5, "padding": 0, "encode": {"symbols": {"update": {"fill": {"value": "white"}, "stroke": {"value": "#808080"}, "strokeWidth": {"value": 1.5}, "opacity": {"value": 1}, "fillOpacity": {"value": 1}, "strokeOpacity": {"value": 1}}}}}}
 }}
]
},
{
"width": 465, "height": 381,
"resolve": {"axis": {"x": "independent", "y": "independent"}},
"layer": [
{"data": {"name": "cmb"}, "mark": {"type": "area", "color": "#e2e2e2", "clip": true, "line": {"color": "#8a8a8a", "strokeWidth": 1.5}},
 "encoding": {
  "x": {"field": "lam", "type": "quantitative", "scale": {"type": "log", "domain": [0.1, 1000], "nice": false},
   "axis": {"orient": "bottom", "values": [0.1,0.2,0.3,0.4,0.5,0.6,0.7,0.8,0.9,1,2,3,4,5,6,7,8,9,10,20,30,40,50,60,70,80,90,100,200,300,400,500,600,700,800,900], "tickSize": {"condition": {"test": "datum.value==0.1||datum.value==1||datum.value==10||datum.value==100", "value": -19}, "value": -11}, "labelExpr": "datum.value==0.1 ? '10⁻¹' : datum.value==1 ? '1' : datum.value==10 ? '10¹' : datum.value==100 ? '10²' : ''", "labelFontSize": 34, "labelPadding": 30, "labelBaseline": "top", "title": "Wavelength [µm]", "titleFontSize": 24, "titleFontWeight": "bold", "titleY": 68, "titleBaseline": "middle"}},
  "y": {"field": "val", "type": "quantitative", "scale": {"type": "log", "domain": [0.5, 50], "nice": false},
   "axis": {"orient": "left", "values": [0.5,0.6,0.7,0.8,0.9,1,2,3,4,5,6,7,8,9,10,20,30,40], "tickSize": {"condition": {"test": "datum.value==1||datum.value==10", "value": -19}, "value": -11}, "labelExpr": "datum.value==1 ? '1' : datum.value==10 ? '10¹' : ''", "labelFontSize": 34, "labelPadding": 44, "labelBaseline": "middle", "title": "EBL Intensity, νIᵥ [nW m⁻² sr⁻¹]", "titleFontSize": 24, "titleFontWeight": "bold", "titleX": -83, "titleY": 190.5, "titleAngle": -90, "titleAlign": "center", "titleBaseline": "middle"}},
  "y2": {"datum": 0.3}
 }},
{"data": {"name": "points"}, "mark": {"type": "rule", "color": "#858585", "strokeWidth": 2.5, "clip": true},
 "encoding": {
  "x": {"field": "lam", "type": "quantitative", "axis": {"orient": "top", "values": [0.1,0.2,0.3,0.4,0.5,0.6,0.7,0.8,0.9,1,2,3,4,5,6,7,8,9,10,20,30,40,50,60,70,80,90,100,200,300,400,500,600,700,800,900], "tickSize": {"condition": {"test": "datum.value==0.1||datum.value==1||datum.value==10||datum.value==100", "value": -19}, "value": -11}, "labels": false, "title": null}},
  "y": {"field": "lo", "type": "quantitative", "axis": {"orient": "right", "values": [0.5,0.6,0.7,0.8,0.9,1,2,3,4,5,6,7,8,9,10,20,30,40], "tickSize": {"condition": {"test": "datum.value==1||datum.value==10", "value": -19}, "value": -11}, "labels": false, "title": null}},
  "y2": {"field": "hi"}
 }},
{"data": {"values": [{}]}, "mark": {"type": "text", "text": "CMB", "font": "Liberation Serif", "fontSize": 17, "color": "#8a8a8a", "align": "left", "baseline": "middle", "clip": true},
 "encoding": {"x": {"datum": 470, "type": "quantitative", "axis": null}, "y": {"datum": 11.8, "type": "quantitative", "axis": null}}},
{"data": {"name": "models"}, "transform": [{"filter": {"field": "model", "oneOf": ["Gilmore+ ’12", "Lagos+ ’19"]}}],
 "mark": {"type": "line", "strokeWidth": 3, "clip": true, "interpolate": "monotone"},
 "encoding": {
  "x": {"field": "lam", "type": "quantitative", "axis": null},
  "y": {"field": "val", "type": "quantitative", "axis": null},
  "color": {"field": "model", "type": "nominal", "scale": {"domain": ["Gilmore+ ’12", "Lagos+ ’19"], "range": ["#f28322", "#f5a35e"]},
   "legend": {"title": null, "orient": "none", "legendX": 23, "legendY": 18, "symbolType": "M-1.7,0H1.7", "symbolSize": 400, "symbolStrokeWidth": 3, "labelFontSize": 24, "labelOffset": 36, "rowPadding": 1, "padding": 0, "labelLimit": 400, "encode": {"labels": {"update": {"fill": {"signal": "datum.value=='Gilmore+ ’12'?'#f28322':'#f5a35e'"}}}}}},
  "strokeDash": {"field": "model", "type": "nominal", "scale": {"domain": ["Gilmore+ ’12", "Lagos+ ’19"], "range": [[12,4,2.5,4],[1,0]]},
   "legend": {"title": null, "orient": "none", "legendX": 23, "legendY": 18, "symbolType": "M-1.7,0H1.7", "symbolSize": 400, "symbolStrokeWidth": 3, "labelFontSize": 24, "labelOffset": 36, "rowPadding": 1, "padding": 0, "labelLimit": 400, "encode": {"labels": {"update": {"fill": {"signal": "datum.value=='Gilmore+ ’12'?'#f28322':'#f5a35e'"}}}}}}
 }},
{"data": {"name": "points"}, "mark": {"type": "point", "fill": "white", "fillOpacity": 1, "stroke": "#808080", "strokeWidth": 1.5, "size": 230, "opacity": 1, "clip": true},
 "encoding": {
  "x": {"field": "lam", "type": "quantitative", "axis": null},
  "y": {"field": "val", "type": "quantitative", "axis": null},
  "shape": {"field": "type", "type": "nominal", "scale": {"domain": ["Direct estimate", "Measurement", "Galaxy count"], "range": ["triangle-down", "circle", "triangle-up"]},
   "legend": {"title": null, "orient": "none", "legendX": 100, "legendY": 289, "symbolSize": 200, "labelFontSize": 24, "labelColor": "black", "labelOffset": 30, "rowPadding": -0.5, "padding": 0, "encode": {"symbols": {"update": {"fill": {"value": "white"}, "stroke": {"value": "#808080"}, "strokeWidth": {"value": 1.5}, "opacity": {"value": 1}, "fillOpacity": {"value": 1}, "strokeOpacity": {"value": 1}}}}}}
 }}
]
},
{
"width": 465, "height": 381,
"view": {"stroke": "#3fae1c", "strokeWidth": 5},
"resolve": {"axis": {"x": "independent", "y": "independent"}},
"layer": [
{"data": {"name": "cmb"}, "mark": {"type": "area", "color": "#e2e2e2", "clip": true, "line": {"color": "#8a8a8a", "strokeWidth": 1.5}},
 "encoding": {
  "x": {"field": "lam", "type": "quantitative", "scale": {"type": "log", "domain": [0.1, 1000], "nice": false},
   "axis": {"orient": "bottom", "values": [0.1,0.2,0.3,0.4,0.5,0.6,0.7,0.8,0.9,1,2,3,4,5,6,7,8,9,10,20,30,40,50,60,70,80,90,100,200,300,400,500,600,700,800,900], "tickSize": {"condition": {"test": "datum.value==0.1||datum.value==1||datum.value==10||datum.value==100", "value": -19}, "value": -11}, "labelExpr": "datum.value==0.1 ? '10⁻¹' : datum.value==1 ? '1' : datum.value==10 ? '10¹' : datum.value==100 ? '10²' : ''", "labelFontSize": 34, "labelPadding": 30, "labelBaseline": "top", "title": "Wavelength [µm]", "titleFontSize": 24, "titleFontWeight": "bold", "titleY": 68, "titleBaseline": "middle"}},
  "y": {"field": "val", "type": "quantitative", "scale": {"type": "log", "domain": [0.5, 50], "nice": false},
   "axis": {"orient": "left", "values": [0.5,0.6,0.7,0.8,0.9,1,2,3,4,5,6,7,8,9,10,20,30,40], "tickSize": {"condition": {"test": "datum.value==1||datum.value==10", "value": -19}, "value": -11}, "labels": false, "title": null}},
  "y2": {"datum": 0.3}
 }},
{"data": {"name": "points"}, "mark": {"type": "rule", "color": "#858585", "strokeWidth": 2.5, "clip": true},
 "encoding": {
  "x": {"field": "lam", "type": "quantitative", "axis": {"orient": "top", "values": [0.1,0.2,0.3,0.4,0.5,0.6,0.7,0.8,0.9,1,2,3,4,5,6,7,8,9,10,20,30,40,50,60,70,80,90,100,200,300,400,500,600,700,800,900], "tickSize": {"condition": {"test": "datum.value==0.1||datum.value==1||datum.value==10||datum.value==100", "value": -19}, "value": -11}, "labels": false, "title": null}},
  "y": {"field": "lo", "type": "quantitative", "axis": {"orient": "right", "values": [0.5,0.6,0.7,0.8,0.9,1,2,3,4,5,6,7,8,9,10,20,30,40], "tickSize": {"condition": {"test": "datum.value==1||datum.value==10", "value": -19}, "value": -11}, "labels": false, "title": null}},
  "y2": {"field": "hi"}
 }},
{"data": {"values": [{}]}, "mark": {"type": "text", "text": "CMB", "font": "Liberation Serif", "fontSize": 17, "color": "#8a8a8a", "align": "left", "baseline": "middle", "clip": true},
 "encoding": {"x": {"datum": 470, "type": "quantitative", "axis": null}, "y": {"datum": 11.8, "type": "quantitative", "axis": null}}},
{"data": {"name": "models"}, "transform": [{"filter": {"field": "model", "oneOf": ["Gilmore+ ’12", "Saldana-Lopez+ ’21", "Andrews+ ’18"]}}],
 "mark": {"type": "line", "strokeWidth": 3, "clip": true, "interpolate": "monotone"},
 "encoding": {
  "x": {"field": "lam", "type": "quantitative", "axis": null},
  "y": {"field": "val", "type": "quantitative", "axis": null},
  "color": {"field": "model", "type": "nominal", "scale": {"domain": ["Gilmore+ ’12", "Saldana-Lopez+ ’21", "Andrews+ ’18"], "range": ["#f28322", "#b35ad4", "#e8181c"]},
   "legend": {"title": null, "orient": "none", "legendX": 21, "legendY": 18, "symbolType": "M-1.7,0H1.7", "symbolSize": 400, "symbolStrokeWidth": 3, "labelFontSize": 24, "labelOffset": 36, "rowPadding": -1, "padding": 0, "labelLimit": 400, "encode": {"labels": {"update": {"fill": {"signal": "datum.value=='Gilmore+ ’12'?'#f28322':datum.value=='Saldana-Lopez+ ’21'?'#b35ad4':'#e8181c'"}}}}}},
  "strokeDash": {"field": "model", "type": "nominal", "scale": {"domain": ["Gilmore+ ’12", "Saldana-Lopez+ ’21", "Andrews+ ’18"], "range": [[12,4,2.5,4],[1,0],[11,5]]},
   "legend": {"title": null, "orient": "none", "legendX": 21, "legendY": 18, "symbolType": "M-1.7,0H1.7", "symbolSize": 400, "symbolStrokeWidth": 3, "labelFontSize": 24, "labelOffset": 36, "rowPadding": -1, "padding": 0, "labelLimit": 400, "encode": {"labels": {"update": {"fill": {"signal": "datum.value=='Gilmore+ ’12'?'#f28322':datum.value=='Saldana-Lopez+ ’21'?'#b35ad4':'#e8181c'"}}}}}}
 }},
{"data": {"name": "points"}, "mark": {"type": "point", "fill": "white", "fillOpacity": 1, "stroke": "#808080", "strokeWidth": 1.5, "size": 230, "opacity": 1, "clip": true},
 "encoding": {
  "x": {"field": "lam", "type": "quantitative", "axis": null},
  "y": {"field": "val", "type": "quantitative", "axis": null},
  "shape": {"field": "type", "type": "nominal", "scale": {"domain": ["Direct estimate", "Measurement", "Galaxy count"], "range": ["triangle-down", "circle", "triangle-up"]},
   "legend": {"title": null, "orient": "none", "legendX": 97, "legendY": 289, "symbolSize": 200, "labelFontSize": 24, "labelColor": "black", "labelOffset": 30, "rowPadding": -0.5, "padding": 0, "encode": {"symbols": {"update": {"fill": {"value": "white"}, "stroke": {"value": "#808080"}, "strokeWidth": {"value": 1.5}, "opacity": {"value": 1}, "fillOpacity": {"value": 1}, "strokeOpacity": {"value": 1}}}}}}
 }}
]
}
],
"config": {
"font": "Liberation Serif",
"view": {"stroke": "black", "strokeWidth": 2},
"axis": {"domain": false, "grid": false, "tickColor": "black", "tickWidth": 1.3, "labelFont": "Liberation Serif", "titleFont": "Liberation Serif", "labelColor": "black", "titleColor": "black", "labelOverlap": false, "labelFlush": false, "labelBound": false},
"legend": {"labelFont": "Liberation Serif", "labelColor": "black"}
}
}
